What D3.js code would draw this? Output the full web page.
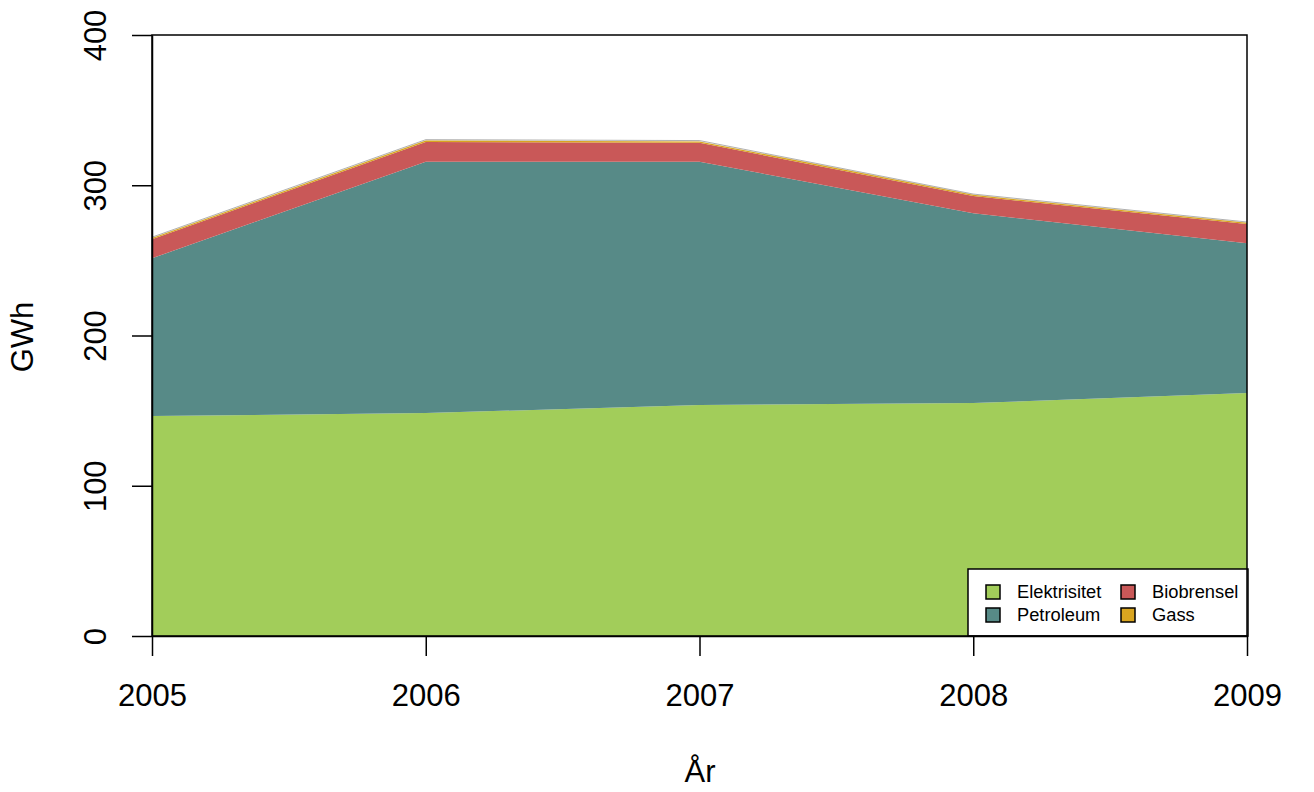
<!DOCTYPE html>
<html>
<head>
<meta charset="utf-8">
<script src="https://cdn.jsdelivr.net/npm/d3@7"></script>
<style>
  html, body { margin: 0; padding: 0; background: #fff; }
  svg { display: block; font-family: "Liberation Sans", Arial, sans-serif; }
</style>
</head>
<body>
<svg id="chart" width="1314" height="792"></svg>
<script>
const years = [2005, 2006, 2007, 2008, 2009];
const seriesNames = ["Elektrisitet", "Petroleum", "Biobrensel", "Gass"];
const elektrisitet = [146.4, 148.4, 153.7, 155.0, 161.7];
const petroleum    = [105.0, 167.3, 162.0, 126.3, 99.7];
const biobrensel   = [12.6, 13.1, 12.6, 11.5, 12.8];
const gass         = [0.9, 1.0, 0.9, 0.8, 0.8];
const yTicks = [0, 100, 200, 300, 400];
const colors = ["#A2CD5A", "#578A87", "#C95858", "#D9A520"];
const legendOrder = ["Elektrisitet", "Biobrensel", "Petroleum", "Gass"];

const rows = years.map((y, i) => ({
  year: y,
  Elektrisitet: elektrisitet[i],
  Petroleum: petroleum[i],
  Biobrensel: biobrensel[i],
  Gass: gass[i]
}));

const svg = d3.select("#chart");
const L = 152, R = 1247, T = 35, B = 636;
const x = d3.scaleLinear().domain([2005, 2009]).range([L, R]);
const y = d3.scaleLinear().domain([0, 400]).range([B, T]);
const color = d3.scaleOrdinal().domain(seriesNames).range(colors);

const stack = d3.stack().keys(seriesNames);
const layers = stack(rows);

const area = d3.area()
  .x(d => x(d.data.year))
  .y0(d => y(d[0]))
  .y1(d => y(d[1]));

svg.append("g").selectAll("path")
  .data(layers)
  .join("path")
  .attr("d", area)
  .attr("fill", d => color(d.key))
  .attr("stroke", "none");

// thin dark outline on the top of the stack
const topLine = d3.line()
  .x(d => x(d.data.year))
  .y(d => y(d[1]));
svg.append("path")
  .datum(layers[layers.length - 1])
  .attr("d", topLine)
  .attr("fill", "none")
  .attr("stroke", "#222")
  .attr("stroke-opacity", 0.45)
  .attr("stroke-width", 0.8)
  .attr("transform", "translate(0,-0.8)");

// Legend
const lg = svg.append("g");
lg.append("rect")
  .attr("x", 968).attr("y", 569)
  .attr("width", 280).attr("height", 67)
  .attr("fill", "#fff").attr("stroke", "#000").attr("stroke-width", 1.5);
const colX = [986, 1121];
const rowY = [592, 615];
legendOrder.forEach((name, i) => {
  const cx = colX[i % 2], cy = rowY[Math.floor(i / 2)];
  lg.append("rect")
    .attr("x", cx).attr("y", cy - 7)
    .attr("width", 14).attr("height", 14)
    .attr("fill", color(name))
    .attr("stroke", "#000").attr("stroke-width", 1.5);
  lg.append("text")
    .attr("x", cx + 31).attr("y", cy)
    .attr("dy", "0.35em")
    .attr("font-size", 18.3)
    .attr("fill", "#000")
    .text(name);
});

// Box
svg.append("rect")
  .attr("x", L).attr("y", T)
  .attr("width", R - L).attr("height", B - T)
  .attr("fill", "none").attr("stroke", "#000").attr("stroke-width", 1.5);

// Y axis
const yAxis = d3.axisLeft(y).tickValues(yTicks).tickSize(20).tickSizeOuter(0).tickPadding(0);
const ga = svg.append("g").attr("transform", `translate(${L},0)`).call(yAxis);
ga.select(".domain").attr("stroke-width", 1.5);
ga.selectAll(".tick line").attr("stroke-width", 1.5);
ga.selectAll(".tick text").remove();
ga.selectAll(".tick").append("text")
  .attr("transform", "translate(-46,0) rotate(-90)")
  .attr("text-anchor", "middle")
  .attr("fill", "#000")
  .attr("font-size", 31)
  .text(d => d);

// X axis
const xAxis = d3.axisBottom(x).tickValues(years).tickFormat(d3.format("d")).tickSize(20).tickSizeOuter(0).tickPadding(0);
const gx = svg.append("g").attr("transform", `translate(0,${B})`).call(xAxis);
gx.select(".domain").attr("stroke-width", 1.5);
gx.selectAll(".tick line").attr("stroke-width", 1.5);
gx.selectAll(".tick text").remove();
gx.selectAll(".tick").append("text")
  .attr("y", 70)
  .attr("text-anchor", "middle")
  .attr("fill", "#000")
  .attr("font-size", 31)
  .text(d => d);

svg.selectAll(".tick text").attr("font-family", "Liberation Sans, Arial, sans-serif");

// Axis titles
svg.append("text")
  .attr("x", 700).attr("y", 782)
  .attr("text-anchor", "middle")
  .attr("font-size", 31)
  .attr("fill", "#000")
  .text("År");
svg.append("text")
  .attr("transform", "translate(33,337) rotate(-90)")
  .attr("text-anchor", "middle")
  .attr("font-size", 31)
  .attr("fill", "#000")
  .text("GWh");
</script>
</body>
</html>
